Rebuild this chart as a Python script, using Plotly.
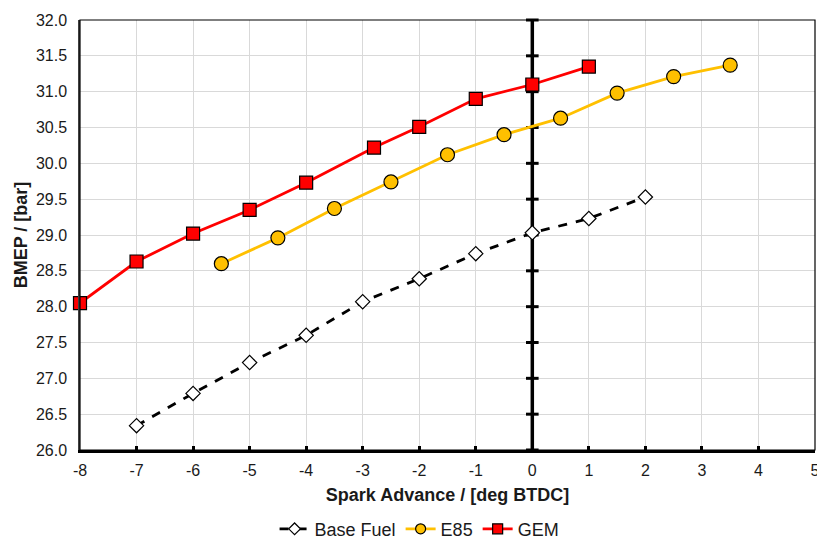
import plotly.graph_objects as go

base_x = [-7, -6, -5, -4, -3, -2, -1, 0, 1, 2]
base_y = [26.34, 26.79, 27.22, 27.60, 28.07, 28.39, 28.74, 29.03, 29.23, 29.53]

e85_x = [-5.5, -4.5, -3.5, -2.5, -1.5, -0.5, 0.5, 1.5, 2.5, 3.5]
e85_y = [28.60, 28.96, 29.37, 29.74, 30.12, 30.40, 30.63, 30.98, 31.21, 31.37]

gem_x = [-8, -7, -6, -5, -4, -2.8, -2, -1, 0, 1]
gem_y = [28.05, 28.63, 29.02, 29.35, 29.73, 30.22, 30.51, 30.90, 31.10, 31.35]

x_tick_vals = [-8, -7, -6, -5, -4, -3, -2, -1, 0, 1, 2, 3, 4, 5]
x_tick_text = ["-8", "-7", "-6", "-5", "-4", "-3", "-2", "-1", "0", "1", "2", "3", "4", "5"]
y_ticks = [26.0, 26.5, 27.0, 27.5, 28.0, 28.5, 29.0, 29.5, 30.0, 30.5, 31.0, 31.5, 32.0]

FONT = "Arial, Liberation Sans, sans-serif"

series = [
    dict(name="Base Fuel", x=base_x, y=base_y, color="black", dash="dash",
         symbol="diamond", fill="white", size=11, lsize=9),
    dict(name="E85", x=e85_x, y=e85_y, color="#FFC000", dash="solid",
         symbol="circle", fill="#FFC000", size=14, lsize=10),
    dict(name="GEM", x=gem_x, y=gem_y, color="#FF0000", dash="solid",
         symbol="square", fill="#FF0000", size=13, lsize=10),
]

fig = go.Figure()

# zero line with tick marks at x = 0
fig.add_trace(go.Scatter(
    x=[0] * len(y_ticks), y=y_ticks, mode="lines+markers",
    line=dict(color="black", width=3.5),
    marker=dict(symbol="line-ew", size=9, line=dict(color="black", width=3)),
    showlegend=False, hoverinfo="skip", cliponaxis=False))

for s in series:
    fig.add_trace(go.Scatter(
        x=s["x"], y=s["y"], name=s["name"], mode="lines+markers",
        line=dict(color=s["color"], width=2.8, dash=s["dash"]),
        marker=dict(symbol=s["symbol"], size=s["size"], color=s["fill"],
                    line=dict(color="black", width=1.2)),
        showlegend=False, cliponaxis=False))

# legend entries with smaller symbols
for s in series:
    fig.add_trace(go.Scatter(
        x=[None], y=[None], name=s["name"], mode="lines+markers",
        line=dict(color=s["color"], width=2.8, dash=s["dash"]),
        marker=dict(symbol=s["symbol"], size=s["lsize"], color=s["fill"],
                    line=dict(color="black", width=1.2)),
        showlegend=True))

fig.update_layout(
    width=817, height=540,
    margin=dict(l=80, r=2, t=20, b=90, autoexpand=False),
    paper_bgcolor="white", plot_bgcolor="white",
    font=dict(family=FONT, size=16, color="#1a1a1a"),
    legend=dict(orientation="h", x=0.462, xanchor="center", y=-0.184, yanchor="middle",
                font=dict(size=18, color="#1a1a1a"), traceorder="normal",
                itemwidth=30, tracegroupgap=0),
    shapes=[dict(type="rect", xref="paper", yref="paper", x0=0, x1=1, y0=0, y1=1,
                 line=dict(color="black", width=1.2), layer="above")],
)

fig.update_xaxes(
    range=[-8, 5], tickmode="array", tickvals=x_tick_vals, ticktext=x_tick_text,
    showgrid=True, gridcolor="#d9d9d9", gridwidth=1, zeroline=False,
    showline=True, linecolor="black", linewidth=3,
    ticks="inside", ticklen=4, tickwidth=3, tickcolor="black",
    tickfont=dict(size=16), ticklabeloverflow="allow", ticklabelstandoff=4,
    title=dict(text="<b>Spark Advance / [deg BTDC]</b>", font=dict(size=18), standoff=11))

fig.update_yaxes(
    range=[26, 32], tickmode="array", tickvals=y_ticks, tickformat=".1f",
    showgrid=True, gridcolor="#d9d9d9", gridwidth=1, zeroline=False,
    showline=True, linecolor="#404040", linewidth=1.5,
    ticks="", tickfont=dict(size=16), ticklabelstandoff=8,
    title=dict(text="<b>BMEP / [bar]</b>", font=dict(size=18), standoff=4))

fig.write_html("out.html")
